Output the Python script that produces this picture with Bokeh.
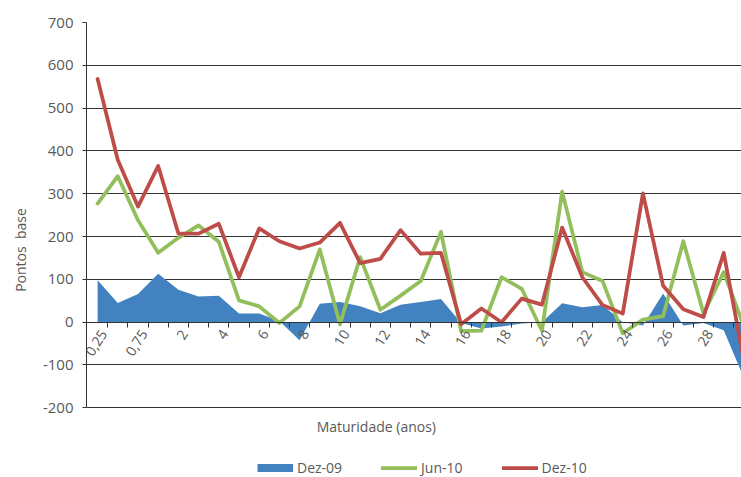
from bokeh.plotting import figure
from bokeh.models import Range1d, FixedTicker, Legend, LegendItem, Label
from bokeh.embed import file_html
from bokeh.resources import INLINE

# ---- data ----
maturities = ["0,25", "0,5", "0,75", "1"] + [str(i) for i in range(2, 31)]
dez09 = [98, 45, 66, 113, 76, 60, 62, 20, 20, 3, -42, 43, 47, 37, 21, 41, 47,
         54, -2, -15, -10, -3, 0, 44, 35, 40, 0, -8, 67, -8, -2, -19, -130]
jun10 = [277, 341, 238, 162, 197, 226, 188, 51, 37, -2, 37, 170, -5, 152, 29, 62, 96,
         211, -21, -20, 105, 78, -20, 305, 117, 96, -26, 6, 14, 189, 20, 117, -10]
dez10 = [568, 379, 270, 365, 207, 207, 230, 105, 219, 189, 172, 186, 232, 138, 148, 215, 160,
         162, -5, 32, 0, 55, 41, 221, 105, 40, 20, 301, 85, 30, 12, 162, -90]
y_ticks = [-200, -100, 0, 100, 200, 300, 400, 500, 600, 700]
series_names = ["Dez-09", "Jun-10", "Dez-10"]
x_title = "Maturidade (anos)"
y_title = "Pontos\u00a0 base"

BLUE = "#4282C1"
GREEN = "#92BF5B"
RED = "#BE4D4A"
TEXT = "#595959"
LINE = "#333333"
FONT = "Open Sans"

x = list(range(len(maturities)))
LABEL_SHIFT = 0.3  # rotated labels sit slightly right of the category centre

# the plotting frame runs down to the bottom so that the title and legend
# can live inside it; the axis and grid stop at -200
p = figure(width=741, height=477, output_backend="svg", toolbar_location=None,
           x_range=Range1d(-0.55, 31.88), y_range=Range1d(-362.8, 700),
           min_border_left=86, min_border_right=0, min_border_top=22,
           min_border_bottom=0)
p.outline_line_color = None
p.background_fill_color = "white"
p.border_fill_color = "white"

# series
p.varea(x=x, y1=0, y2=dez09, fill_color=BLUE)
r_jun = p.line(x, jun10, line_color=GREEN, line_width=3.75, line_join="round", line_cap="round")
r_dez = p.line(x, dez10, line_color=RED, line_width=3.75, line_join="round", line_cap="round")
# legend swatch for the area series (a zero-length line draws nothing in the plot)
swatch = p.line(x=x[:1], y=dez09[:1], line_color=BLUE, line_width=8, line_cap="butt")

# grid
p.xgrid.visible = False
p.ygrid.ticker = FixedTicker(ticks=y_ticks)
p.ygrid.grid_line_color = LINE
p.ygrid.grid_line_width = 1

# x axis crossing at zero
label_idx = list(range(0, len(maturities), 2))
xa = p.xaxis[0]
xa.fixed_location = 0
xa.ticker = FixedTicker(ticks=[i + LABEL_SHIFT for i in label_idx],
                        minor_ticks=[i + 0.5 for i in range(0, len(maturities) - 1)])
xa.major_label_overrides = {i + LABEL_SHIFT: maturities[i] for i in label_idx}
xa.major_label_orientation = 1.0
xa.major_tick_out = 0
xa.major_tick_in = 0
xa.minor_tick_out = 5
xa.minor_tick_in = 0
xa.minor_tick_line_color = LINE
xa.axis_line_color = LINE
xa.major_label_standoff = 4
xa.major_label_text_font = FONT
xa.major_label_text_font_size = "14px"
xa.major_label_text_color = TEXT

# y axis
ya = p.yaxis[0]
ya.bounds = (y_ticks[0], y_ticks[-1])
ya.ticker = FixedTicker(ticks=y_ticks)
ya.major_label_overrides = {t: str(t) for t in y_ticks}
ya.major_tick_out = 4
ya.major_tick_in = 0
ya.minor_tick_line_color = None
ya.major_tick_line_color = LINE
ya.axis_line_color = LINE
ya.major_label_standoff = 9
ya.major_label_text_font = FONT
ya.major_label_text_font_size = "15px"
ya.major_label_text_color = TEXT
ya.axis_label = y_title
ya.axis_label_standoff = 10
ya.axis_label_text_font = FONT
ya.axis_label_text_font_size = "14px"
ya.axis_label_text_color = TEXT
ya.axis_label_text_font_style = "normal"

# x axis title
p.add_layout(Label(x=13.8, y=-243.7, text=x_title, text_align="center",
                   text_baseline="middle", text_font=FONT, text_font_size="14px",
                   text_color=TEXT))

# legend
legend = Legend(items=[LegendItem(label=series_names[0], renderers=[swatch]),
                       LegendItem(label=series_names[1], renderers=[r_jun]),
                       LegendItem(label=series_names[2], renderers=[r_dez])],
                orientation="horizontal", location=(171, 0),
                glyph_width=36, glyph_height=19, label_height=19, label_standoff=4,
                spacing=39, padding=0, margin=0, border_line_color=None,
                background_fill_alpha=0, label_text_font=FONT,
                label_text_font_size="14px", label_text_color=TEXT)
p.add_layout(legend)

open("out.html", "w").write(file_html(p, INLINE))
